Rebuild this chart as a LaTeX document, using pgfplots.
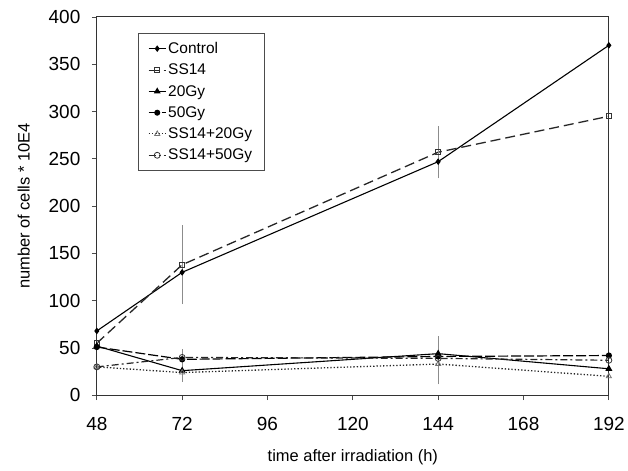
\documentclass[border=0pt]{standalone}
\usepackage{pgfplots}
\pgfplotsset{compat=1.18}
\usepackage{fontspec}
\setmainfont{Liberation Sans}

\begin{document}
\begin{tikzpicture}
\begin{axis}[
    scale only axis,
    width=513pt, height=379pt,
    xmin=48, xmax=192, ymin=0, ymax=400,
    xtick={48,72,96,120,144,168,192},
    ytick={0,50,100,150,200,250,300,350,400},
    tick pos=left, tick align=outside,
    major tick length=5pt,
    every tick/.style={black!70, line width=0.8pt},
    axis line style={black!80, line width=1pt},
    tick label style={font=\fontsize{19}{22}\selectfont},
    /pgf/number format/assume math mode=true,
    xticklabel style={yshift=-14pt},
    yticklabel style={xshift=-8pt},
    xlabel={time after irradiation (h)},
    ylabel={number of cells * 10E4},
    label style={font=\fontsize{16.5}{19}\selectfont},
    xlabel style={yshift=-12pt},
    ylabel style={yshift=12pt},
    legend style={at={(0.08,0.958)}, anchor=north west, draw=black!70,
        font=\fontsize{15.5}{18}\selectfont, row sep=5pt,
        inner xsep=10pt, inner ysep=7pt, line width=0.9pt},
    legend cell align=left,
    legend image post style={line width=1pt},
    error bars/error bar style={solid, black!45, line width=0.8pt},
    error bars/error mark options={solid, black!45, mark size=1.5pt},
]
\addplot[black, line width=1.1pt, mark=diamond*, mark size=2.5pt]
    coordinates {(48,68) (72,130) (144,247) (192,370)};
\addplot[black!85, line width=1.3pt, dash pattern=on 10pt off 5pt,
    mark=square, mark options={solid, fill=white, black!80, line width=0.8pt}, mark size=2.5pt,
    error bars/.cd, y dir=both, y explicit]
    coordinates {(48,55) +- (0,0) (72,138) +- (0,40) (144,257) +- (0,26) (192,295) +- (0,0)};
\addplot[black, line width=1.1pt, mark=triangle*, mark size=3pt,
    error bars/.cd, y dir=both, y explicit]
    coordinates {(48,52) +- (0,0) (72,26) +- (0,10) (144,44) +- (0,17) (192,28) +- (0,0)};
\addplot[black, line width=1.2pt, dash pattern=on 10pt off 3pt,
    mark=*, mark options={solid}, mark size=2.5pt]
    coordinates {(48,51) (72,38) (144,41) (192,42)};
\addplot[black!85, line width=1.3pt, dotted,
    mark=triangle, mark options={solid, black!55, fill=white, line width=0.8pt}, mark size=3pt,
    error bars/.cd, y dir=both, y explicit]
    coordinates {(48,30) +- (0,0) (72,24) +- (0,8) (144,33) +- (0,20) (192,20) +- (0,0)};
\addplot[black!85, line width=1.2pt, dash pattern=on 7pt off 3pt on 2pt off 3pt,
    mark=o, mark options={solid, fill=white, black!80, line width=0.8pt}, mark size=3pt,
    error bars/.cd, y dir=both, y explicit]
    coordinates {(48,30) +- (0,0) (72,40) +- (0,7) (144,39) +- (0,8) (192,37) +- (0,0)};
\legend{Control, SS14, 20Gy, 50Gy, SS14+20Gy, SS14+50Gy}
\end{axis}
\path (current axis.south west) ++(-97pt,-75pt) coordinate (bl);
\path (current axis.north east) ++(18pt,17pt) coordinate (tr);
\useasboundingbox (bl) rectangle (tr);
\end{tikzpicture}
\end{document}
